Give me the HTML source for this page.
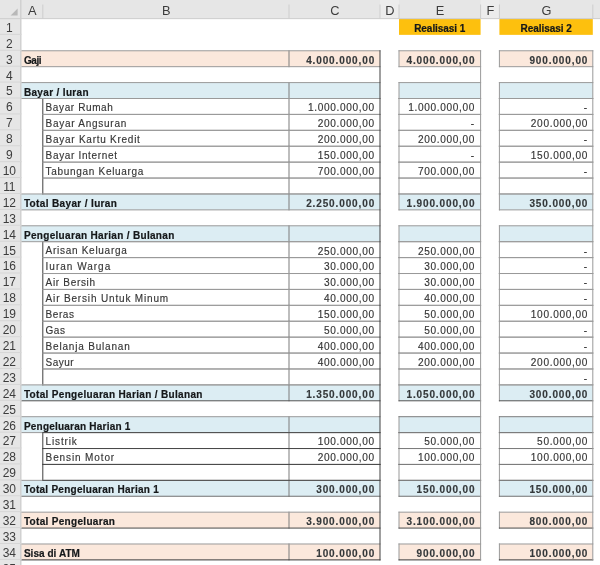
<!DOCTYPE html>
<html><head><meta charset="utf-8"><style>
html,body{margin:0;padding:0;background:#fff;width:600px;height:565px;overflow:hidden}
body{position:relative;font-family:"Liberation Sans",sans-serif;filter:blur(0.3px)}
svg{position:absolute;left:0;top:0}
.t{position:absolute;height:0;line-height:0;white-space:nowrap}
.n{color:#363636;-webkit-text-stroke:0.15px #363636}
.b{font-weight:bold;color:#15181a;-webkit-text-stroke:0.2px #15181a}
.hd{color:#3c3c3c}
.bn{color:#34383a;-webkit-text-stroke:0.15px #34383a}
</style></head><body>
<svg width="600" height="565" viewBox="0 0 600 565">
<rect x="0.00" y="0.00" width="600.00" height="18.95" fill="#e6e6e6"/>
<rect x="0.00" y="18.95" width="21.00" height="546.05" fill="#e6e6e6"/>
<rect x="380.00" y="0.00" width="19.00" height="18.95" fill="#ececec"/>
<rect x="480.60" y="0.00" width="18.80" height="18.95" fill="#ececec"/>
<rect x="21.00" y="50.77" width="359.00" height="15.91" fill="#fbe8dc"/>
<rect x="399.00" y="50.77" width="81.60" height="15.91" fill="#fbe8dc"/>
<rect x="499.40" y="50.77" width="93.40" height="15.91" fill="#fbe8dc"/>
<rect x="21.00" y="82.59" width="359.00" height="15.91" fill="#dcedf3"/>
<rect x="399.00" y="82.59" width="81.60" height="15.91" fill="#dcedf3"/>
<rect x="499.40" y="82.59" width="93.40" height="15.91" fill="#dcedf3"/>
<rect x="21.00" y="193.96" width="359.00" height="15.91" fill="#dcedf3"/>
<rect x="399.00" y="193.96" width="81.60" height="15.91" fill="#dcedf3"/>
<rect x="499.40" y="193.96" width="93.40" height="15.91" fill="#dcedf3"/>
<rect x="21.00" y="225.78" width="359.00" height="15.91" fill="#dcedf3"/>
<rect x="399.00" y="225.78" width="81.60" height="15.91" fill="#dcedf3"/>
<rect x="499.40" y="225.78" width="93.40" height="15.91" fill="#dcedf3"/>
<rect x="21.00" y="384.88" width="359.00" height="15.91" fill="#dcedf3"/>
<rect x="399.00" y="384.88" width="81.60" height="15.91" fill="#dcedf3"/>
<rect x="499.40" y="384.88" width="93.40" height="15.91" fill="#dcedf3"/>
<rect x="21.00" y="416.70" width="359.00" height="15.91" fill="#dcedf3"/>
<rect x="399.00" y="416.70" width="81.60" height="15.91" fill="#dcedf3"/>
<rect x="499.40" y="416.70" width="93.40" height="15.91" fill="#dcedf3"/>
<rect x="21.00" y="480.34" width="359.00" height="15.91" fill="#dcedf3"/>
<rect x="399.00" y="480.34" width="81.60" height="15.91" fill="#dcedf3"/>
<rect x="499.40" y="480.34" width="93.40" height="15.91" fill="#dcedf3"/>
<rect x="21.00" y="512.16" width="359.00" height="15.91" fill="#fbe8dc"/>
<rect x="399.00" y="512.16" width="81.60" height="15.91" fill="#fbe8dc"/>
<rect x="499.40" y="512.16" width="93.40" height="15.91" fill="#fbe8dc"/>
<rect x="21.00" y="543.98" width="359.00" height="15.91" fill="#fbe8dc"/>
<rect x="399.00" y="543.98" width="81.60" height="15.91" fill="#fbe8dc"/>
<rect x="499.40" y="543.98" width="93.40" height="15.91" fill="#fbe8dc"/>
<rect x="399.00" y="18.95" width="81.60" height="15.91" fill="#fdc00e"/>
<rect x="499.40" y="18.95" width="93.40" height="15.91" fill="#fdc00e"/>
<rect x="288.50" y="50.27" width="1.00" height="16.91" fill="#7c7c7c"/>
<rect x="398.50" y="50.27" width="1.00" height="16.91" fill="#9a9a9a"/>
<rect x="498.90" y="50.27" width="1.00" height="16.91" fill="#9a9a9a"/>
<rect x="288.50" y="82.09" width="1.00" height="16.91" fill="#7c7c7c"/>
<rect x="398.50" y="82.09" width="1.00" height="16.91" fill="#9a9a9a"/>
<rect x="498.90" y="82.09" width="1.00" height="16.91" fill="#9a9a9a"/>
<rect x="288.50" y="98.00" width="1.00" height="16.91" fill="#7c7c7c"/>
<rect x="42.30" y="98.00" width="1.00" height="16.91" fill="#404040"/>
<rect x="398.50" y="98.00" width="1.00" height="16.91" fill="#9a9a9a"/>
<rect x="498.90" y="98.00" width="1.00" height="16.91" fill="#9a9a9a"/>
<rect x="288.50" y="113.91" width="1.00" height="16.91" fill="#7c7c7c"/>
<rect x="42.30" y="113.91" width="1.00" height="16.91" fill="#404040"/>
<rect x="398.50" y="113.91" width="1.00" height="16.91" fill="#9a9a9a"/>
<rect x="498.90" y="113.91" width="1.00" height="16.91" fill="#9a9a9a"/>
<rect x="288.50" y="129.82" width="1.00" height="16.91" fill="#7c7c7c"/>
<rect x="42.30" y="129.82" width="1.00" height="16.91" fill="#404040"/>
<rect x="398.50" y="129.82" width="1.00" height="16.91" fill="#9a9a9a"/>
<rect x="498.90" y="129.82" width="1.00" height="16.91" fill="#9a9a9a"/>
<rect x="288.50" y="145.73" width="1.00" height="16.91" fill="#7c7c7c"/>
<rect x="42.30" y="145.73" width="1.00" height="16.91" fill="#404040"/>
<rect x="398.50" y="145.73" width="1.00" height="16.91" fill="#9a9a9a"/>
<rect x="498.90" y="145.73" width="1.00" height="16.91" fill="#9a9a9a"/>
<rect x="288.50" y="161.64" width="1.00" height="16.91" fill="#7c7c7c"/>
<rect x="42.30" y="161.64" width="1.00" height="16.91" fill="#404040"/>
<rect x="398.50" y="161.64" width="1.00" height="16.91" fill="#9a9a9a"/>
<rect x="498.90" y="161.64" width="1.00" height="16.91" fill="#9a9a9a"/>
<rect x="288.50" y="177.55" width="1.00" height="16.91" fill="#7c7c7c"/>
<rect x="42.30" y="177.55" width="1.00" height="16.91" fill="#404040"/>
<rect x="398.50" y="177.55" width="1.00" height="16.91" fill="#9a9a9a"/>
<rect x="498.90" y="177.55" width="1.00" height="16.91" fill="#9a9a9a"/>
<rect x="288.50" y="193.46" width="1.00" height="16.91" fill="#7c7c7c"/>
<rect x="398.50" y="193.46" width="1.00" height="16.91" fill="#9a9a9a"/>
<rect x="498.90" y="193.46" width="1.00" height="16.91" fill="#9a9a9a"/>
<rect x="288.50" y="225.28" width="1.00" height="16.91" fill="#7c7c7c"/>
<rect x="398.50" y="225.28" width="1.00" height="16.91" fill="#9a9a9a"/>
<rect x="498.90" y="225.28" width="1.00" height="16.91" fill="#9a9a9a"/>
<rect x="288.50" y="241.19" width="1.00" height="16.91" fill="#7c7c7c"/>
<rect x="42.30" y="241.19" width="1.00" height="16.91" fill="#404040"/>
<rect x="398.50" y="241.19" width="1.00" height="16.91" fill="#9a9a9a"/>
<rect x="498.90" y="241.19" width="1.00" height="16.91" fill="#9a9a9a"/>
<rect x="288.50" y="257.10" width="1.00" height="16.91" fill="#7c7c7c"/>
<rect x="42.30" y="257.10" width="1.00" height="16.91" fill="#404040"/>
<rect x="398.50" y="257.10" width="1.00" height="16.91" fill="#9a9a9a"/>
<rect x="498.90" y="257.10" width="1.00" height="16.91" fill="#9a9a9a"/>
<rect x="288.50" y="273.01" width="1.00" height="16.91" fill="#7c7c7c"/>
<rect x="42.30" y="273.01" width="1.00" height="16.91" fill="#404040"/>
<rect x="398.50" y="273.01" width="1.00" height="16.91" fill="#9a9a9a"/>
<rect x="498.90" y="273.01" width="1.00" height="16.91" fill="#9a9a9a"/>
<rect x="288.50" y="288.92" width="1.00" height="16.91" fill="#7c7c7c"/>
<rect x="42.30" y="288.92" width="1.00" height="16.91" fill="#404040"/>
<rect x="398.50" y="288.92" width="1.00" height="16.91" fill="#9a9a9a"/>
<rect x="498.90" y="288.92" width="1.00" height="16.91" fill="#9a9a9a"/>
<rect x="288.50" y="304.83" width="1.00" height="16.91" fill="#7c7c7c"/>
<rect x="42.30" y="304.83" width="1.00" height="16.91" fill="#404040"/>
<rect x="398.50" y="304.83" width="1.00" height="16.91" fill="#9a9a9a"/>
<rect x="498.90" y="304.83" width="1.00" height="16.91" fill="#9a9a9a"/>
<rect x="288.50" y="320.74" width="1.00" height="16.91" fill="#7c7c7c"/>
<rect x="42.30" y="320.74" width="1.00" height="16.91" fill="#404040"/>
<rect x="398.50" y="320.74" width="1.00" height="16.91" fill="#9a9a9a"/>
<rect x="498.90" y="320.74" width="1.00" height="16.91" fill="#9a9a9a"/>
<rect x="288.50" y="336.65" width="1.00" height="16.91" fill="#7c7c7c"/>
<rect x="42.30" y="336.65" width="1.00" height="16.91" fill="#404040"/>
<rect x="398.50" y="336.65" width="1.00" height="16.91" fill="#9a9a9a"/>
<rect x="498.90" y="336.65" width="1.00" height="16.91" fill="#9a9a9a"/>
<rect x="288.50" y="352.56" width="1.00" height="16.91" fill="#7c7c7c"/>
<rect x="42.30" y="352.56" width="1.00" height="16.91" fill="#404040"/>
<rect x="398.50" y="352.56" width="1.00" height="16.91" fill="#9a9a9a"/>
<rect x="498.90" y="352.56" width="1.00" height="16.91" fill="#9a9a9a"/>
<rect x="288.50" y="368.47" width="1.00" height="16.91" fill="#7c7c7c"/>
<rect x="42.30" y="368.47" width="1.00" height="16.91" fill="#404040"/>
<rect x="398.50" y="368.47" width="1.00" height="16.91" fill="#9a9a9a"/>
<rect x="498.90" y="368.47" width="1.00" height="16.91" fill="#9a9a9a"/>
<rect x="288.50" y="384.38" width="1.00" height="16.91" fill="#7c7c7c"/>
<rect x="398.50" y="384.38" width="1.00" height="16.91" fill="#9a9a9a"/>
<rect x="498.90" y="384.38" width="1.00" height="16.91" fill="#9a9a9a"/>
<rect x="288.50" y="416.20" width="1.00" height="16.91" fill="#7c7c7c"/>
<rect x="398.50" y="416.20" width="1.00" height="16.91" fill="#9a9a9a"/>
<rect x="498.90" y="416.20" width="1.00" height="16.91" fill="#9a9a9a"/>
<rect x="288.50" y="432.11" width="1.00" height="16.91" fill="#7c7c7c"/>
<rect x="42.30" y="432.11" width="1.00" height="16.91" fill="#404040"/>
<rect x="398.50" y="432.11" width="1.00" height="16.91" fill="#9a9a9a"/>
<rect x="498.90" y="432.11" width="1.00" height="16.91" fill="#9a9a9a"/>
<rect x="288.50" y="448.02" width="1.00" height="16.91" fill="#7c7c7c"/>
<rect x="42.30" y="448.02" width="1.00" height="16.91" fill="#404040"/>
<rect x="398.50" y="448.02" width="1.00" height="16.91" fill="#9a9a9a"/>
<rect x="498.90" y="448.02" width="1.00" height="16.91" fill="#9a9a9a"/>
<rect x="288.50" y="463.93" width="1.00" height="16.91" fill="#7c7c7c"/>
<rect x="42.30" y="463.93" width="1.00" height="16.91" fill="#404040"/>
<rect x="398.50" y="463.93" width="1.00" height="16.91" fill="#9a9a9a"/>
<rect x="498.90" y="463.93" width="1.00" height="16.91" fill="#9a9a9a"/>
<rect x="288.50" y="479.84" width="1.00" height="16.91" fill="#7c7c7c"/>
<rect x="398.50" y="479.84" width="1.00" height="16.91" fill="#9a9a9a"/>
<rect x="498.90" y="479.84" width="1.00" height="16.91" fill="#9a9a9a"/>
<rect x="288.50" y="511.66" width="1.00" height="16.91" fill="#7c7c7c"/>
<rect x="398.50" y="511.66" width="1.00" height="16.91" fill="#9a9a9a"/>
<rect x="498.90" y="511.66" width="1.00" height="16.91" fill="#9a9a9a"/>
<rect x="288.50" y="543.48" width="1.00" height="16.91" fill="#7c7c7c"/>
<rect x="398.50" y="543.48" width="1.00" height="16.91" fill="#9a9a9a"/>
<rect x="498.90" y="543.48" width="1.00" height="16.91" fill="#9a9a9a"/>
<rect x="20.50" y="50.27" width="360.00" height="1.00" fill="#9a9a9a"/>
<rect x="20.50" y="66.18" width="360.00" height="1.00" fill="#9a9a9a"/>
<rect x="398.50" y="50.27" width="82.60" height="1.00" fill="#9a9a9a"/>
<rect x="398.50" y="66.18" width="82.60" height="1.00" fill="#9a9a9a"/>
<rect x="498.90" y="50.27" width="94.40" height="1.00" fill="#9a9a9a"/>
<rect x="498.90" y="66.18" width="94.40" height="1.00" fill="#9a9a9a"/>
<rect x="20.50" y="82.09" width="360.00" height="1.00" fill="#9a9a9a"/>
<rect x="20.50" y="98.00" width="360.00" height="1.00" fill="#9a9a9a"/>
<rect x="398.50" y="82.09" width="82.60" height="1.00" fill="#9a9a9a"/>
<rect x="398.50" y="98.00" width="82.60" height="1.00" fill="#9a9a9a"/>
<rect x="498.90" y="82.09" width="94.40" height="1.00" fill="#9a9a9a"/>
<rect x="498.90" y="98.00" width="94.40" height="1.00" fill="#9a9a9a"/>
<rect x="42.30" y="98.00" width="338.20" height="1.00" fill="#9a9a9a"/>
<rect x="42.30" y="113.91" width="338.20" height="1.00" fill="#9a9a9a"/>
<rect x="398.50" y="98.00" width="82.60" height="1.00" fill="#9a9a9a"/>
<rect x="398.50" y="113.91" width="82.60" height="1.00" fill="#9a9a9a"/>
<rect x="498.90" y="98.00" width="94.40" height="1.00" fill="#9a9a9a"/>
<rect x="498.90" y="113.91" width="94.40" height="1.00" fill="#9a9a9a"/>
<rect x="42.30" y="113.91" width="338.20" height="1.00" fill="#9a9a9a"/>
<rect x="42.30" y="129.82" width="338.20" height="1.00" fill="#9a9a9a"/>
<rect x="398.50" y="113.91" width="82.60" height="1.00" fill="#9a9a9a"/>
<rect x="398.50" y="129.82" width="82.60" height="1.00" fill="#9a9a9a"/>
<rect x="498.90" y="113.91" width="94.40" height="1.00" fill="#9a9a9a"/>
<rect x="498.90" y="129.82" width="94.40" height="1.00" fill="#9a9a9a"/>
<rect x="42.30" y="129.82" width="338.20" height="1.00" fill="#9a9a9a"/>
<rect x="42.30" y="145.73" width="338.20" height="1.00" fill="#9a9a9a"/>
<rect x="398.50" y="129.82" width="82.60" height="1.00" fill="#9a9a9a"/>
<rect x="398.50" y="145.73" width="82.60" height="1.00" fill="#9a9a9a"/>
<rect x="498.90" y="129.82" width="94.40" height="1.00" fill="#9a9a9a"/>
<rect x="498.90" y="145.73" width="94.40" height="1.00" fill="#9a9a9a"/>
<rect x="42.30" y="145.73" width="338.20" height="1.00" fill="#9a9a9a"/>
<rect x="42.30" y="161.64" width="338.20" height="1.00" fill="#9a9a9a"/>
<rect x="398.50" y="145.73" width="82.60" height="1.00" fill="#9a9a9a"/>
<rect x="398.50" y="161.64" width="82.60" height="1.00" fill="#9a9a9a"/>
<rect x="498.90" y="145.73" width="94.40" height="1.00" fill="#9a9a9a"/>
<rect x="498.90" y="161.64" width="94.40" height="1.00" fill="#9a9a9a"/>
<rect x="42.30" y="161.64" width="338.20" height="1.00" fill="#9a9a9a"/>
<rect x="42.30" y="177.55" width="338.20" height="1.00" fill="#9a9a9a"/>
<rect x="398.50" y="161.64" width="82.60" height="1.00" fill="#9a9a9a"/>
<rect x="398.50" y="177.55" width="82.60" height="1.00" fill="#9a9a9a"/>
<rect x="498.90" y="161.64" width="94.40" height="1.00" fill="#9a9a9a"/>
<rect x="498.90" y="177.55" width="94.40" height="1.00" fill="#9a9a9a"/>
<rect x="42.30" y="177.55" width="338.20" height="1.00" fill="#9a9a9a"/>
<rect x="42.30" y="193.46" width="338.20" height="1.00" fill="#9a9a9a"/>
<rect x="398.50" y="177.55" width="82.60" height="1.00" fill="#9a9a9a"/>
<rect x="398.50" y="193.46" width="82.60" height="1.00" fill="#9a9a9a"/>
<rect x="498.90" y="177.55" width="94.40" height="1.00" fill="#9a9a9a"/>
<rect x="498.90" y="193.46" width="94.40" height="1.00" fill="#9a9a9a"/>
<rect x="20.50" y="193.46" width="360.00" height="1.00" fill="#9a9a9a"/>
<rect x="20.50" y="209.37" width="360.00" height="1.00" fill="#9a9a9a"/>
<rect x="398.50" y="193.46" width="82.60" height="1.00" fill="#9a9a9a"/>
<rect x="398.50" y="209.37" width="82.60" height="1.00" fill="#9a9a9a"/>
<rect x="498.90" y="193.46" width="94.40" height="1.00" fill="#9a9a9a"/>
<rect x="498.90" y="209.37" width="94.40" height="1.00" fill="#9a9a9a"/>
<rect x="20.50" y="225.28" width="360.00" height="1.00" fill="#9a9a9a"/>
<rect x="20.50" y="241.19" width="360.00" height="1.00" fill="#9a9a9a"/>
<rect x="398.50" y="225.28" width="82.60" height="1.00" fill="#9a9a9a"/>
<rect x="398.50" y="241.19" width="82.60" height="1.00" fill="#9a9a9a"/>
<rect x="498.90" y="225.28" width="94.40" height="1.00" fill="#9a9a9a"/>
<rect x="498.90" y="241.19" width="94.40" height="1.00" fill="#9a9a9a"/>
<rect x="42.30" y="241.19" width="338.20" height="1.00" fill="#9a9a9a"/>
<rect x="42.30" y="257.10" width="338.20" height="1.00" fill="#9a9a9a"/>
<rect x="398.50" y="241.19" width="82.60" height="1.00" fill="#9a9a9a"/>
<rect x="398.50" y="257.10" width="82.60" height="1.00" fill="#9a9a9a"/>
<rect x="498.90" y="241.19" width="94.40" height="1.00" fill="#9a9a9a"/>
<rect x="498.90" y="257.10" width="94.40" height="1.00" fill="#9a9a9a"/>
<rect x="42.30" y="257.10" width="338.20" height="1.00" fill="#9a9a9a"/>
<rect x="42.30" y="273.01" width="338.20" height="1.00" fill="#9a9a9a"/>
<rect x="398.50" y="257.10" width="82.60" height="1.00" fill="#9a9a9a"/>
<rect x="398.50" y="273.01" width="82.60" height="1.00" fill="#9a9a9a"/>
<rect x="498.90" y="257.10" width="94.40" height="1.00" fill="#9a9a9a"/>
<rect x="498.90" y="273.01" width="94.40" height="1.00" fill="#9a9a9a"/>
<rect x="42.30" y="273.01" width="338.20" height="1.00" fill="#9a9a9a"/>
<rect x="42.30" y="288.92" width="338.20" height="1.00" fill="#9a9a9a"/>
<rect x="398.50" y="273.01" width="82.60" height="1.00" fill="#9a9a9a"/>
<rect x="398.50" y="288.92" width="82.60" height="1.00" fill="#9a9a9a"/>
<rect x="498.90" y="273.01" width="94.40" height="1.00" fill="#9a9a9a"/>
<rect x="498.90" y="288.92" width="94.40" height="1.00" fill="#9a9a9a"/>
<rect x="42.30" y="288.92" width="338.20" height="1.00" fill="#9a9a9a"/>
<rect x="42.30" y="304.83" width="338.20" height="1.00" fill="#9a9a9a"/>
<rect x="398.50" y="288.92" width="82.60" height="1.00" fill="#9a9a9a"/>
<rect x="398.50" y="304.83" width="82.60" height="1.00" fill="#9a9a9a"/>
<rect x="498.90" y="288.92" width="94.40" height="1.00" fill="#9a9a9a"/>
<rect x="498.90" y="304.83" width="94.40" height="1.00" fill="#9a9a9a"/>
<rect x="42.30" y="304.83" width="338.20" height="1.00" fill="#9a9a9a"/>
<rect x="42.30" y="320.74" width="338.20" height="1.00" fill="#9a9a9a"/>
<rect x="398.50" y="304.83" width="82.60" height="1.00" fill="#9a9a9a"/>
<rect x="398.50" y="320.74" width="82.60" height="1.00" fill="#9a9a9a"/>
<rect x="498.90" y="304.83" width="94.40" height="1.00" fill="#9a9a9a"/>
<rect x="498.90" y="320.74" width="94.40" height="1.00" fill="#9a9a9a"/>
<rect x="42.30" y="320.74" width="338.20" height="1.00" fill="#9a9a9a"/>
<rect x="42.30" y="336.65" width="338.20" height="1.00" fill="#9a9a9a"/>
<rect x="398.50" y="320.74" width="82.60" height="1.00" fill="#9a9a9a"/>
<rect x="398.50" y="336.65" width="82.60" height="1.00" fill="#9a9a9a"/>
<rect x="498.90" y="320.74" width="94.40" height="1.00" fill="#9a9a9a"/>
<rect x="498.90" y="336.65" width="94.40" height="1.00" fill="#9a9a9a"/>
<rect x="42.30" y="336.65" width="338.20" height="1.00" fill="#9a9a9a"/>
<rect x="42.30" y="352.56" width="338.20" height="1.00" fill="#9a9a9a"/>
<rect x="398.50" y="336.65" width="82.60" height="1.00" fill="#9a9a9a"/>
<rect x="398.50" y="352.56" width="82.60" height="1.00" fill="#9a9a9a"/>
<rect x="498.90" y="336.65" width="94.40" height="1.00" fill="#9a9a9a"/>
<rect x="498.90" y="352.56" width="94.40" height="1.00" fill="#9a9a9a"/>
<rect x="42.30" y="352.56" width="338.20" height="1.00" fill="#9a9a9a"/>
<rect x="42.30" y="368.47" width="338.20" height="1.00" fill="#9a9a9a"/>
<rect x="398.50" y="352.56" width="82.60" height="1.00" fill="#9a9a9a"/>
<rect x="398.50" y="368.47" width="82.60" height="1.00" fill="#9a9a9a"/>
<rect x="498.90" y="352.56" width="94.40" height="1.00" fill="#9a9a9a"/>
<rect x="498.90" y="368.47" width="94.40" height="1.00" fill="#9a9a9a"/>
<rect x="42.30" y="368.47" width="338.20" height="1.00" fill="#9a9a9a"/>
<rect x="42.30" y="384.38" width="338.20" height="1.00" fill="#9a9a9a"/>
<rect x="398.50" y="368.47" width="82.60" height="1.00" fill="#9a9a9a"/>
<rect x="398.50" y="384.38" width="82.60" height="1.00" fill="#9a9a9a"/>
<rect x="498.90" y="368.47" width="94.40" height="1.00" fill="#9a9a9a"/>
<rect x="498.90" y="384.38" width="94.40" height="1.00" fill="#9a9a9a"/>
<rect x="20.50" y="384.38" width="360.00" height="1.00" fill="#9a9a9a"/>
<rect x="398.50" y="384.38" width="82.60" height="1.00" fill="#9a9a9a"/>
<rect x="498.90" y="384.38" width="94.40" height="1.00" fill="#9a9a9a"/>
<rect x="20.50" y="416.20" width="360.00" height="1.00" fill="#9a9a9a"/>
<rect x="20.50" y="432.11" width="360.00" height="1.00" fill="#9a9a9a"/>
<rect x="20.50" y="479.84" width="360.00" height="1.00" fill="#9a9a9a"/>
<rect x="20.50" y="511.66" width="360.00" height="1.00" fill="#9a9a9a"/>
<rect x="398.50" y="511.66" width="82.60" height="1.00" fill="#9a9a9a"/>
<rect x="498.90" y="511.66" width="94.40" height="1.00" fill="#9a9a9a"/>
<rect x="20.50" y="543.48" width="360.00" height="1.00" fill="#9a9a9a"/>
<rect x="398.50" y="543.48" width="82.60" height="1.00" fill="#9a9a9a"/>
<rect x="498.90" y="543.48" width="94.40" height="1.00" fill="#9a9a9a"/>
<rect x="398.50" y="416.20" width="82.60" height="1.00" fill="#7c7c7c"/>
<rect x="398.50" y="432.11" width="82.60" height="1.00" fill="#7c7c7c"/>
<rect x="498.90" y="416.20" width="94.40" height="1.00" fill="#7c7c7c"/>
<rect x="498.90" y="432.11" width="94.40" height="1.00" fill="#7c7c7c"/>
<rect x="398.50" y="432.11" width="82.60" height="1.00" fill="#7c7c7c"/>
<rect x="398.50" y="448.02" width="82.60" height="1.00" fill="#7c7c7c"/>
<rect x="498.90" y="432.11" width="94.40" height="1.00" fill="#7c7c7c"/>
<rect x="498.90" y="448.02" width="94.40" height="1.00" fill="#7c7c7c"/>
<rect x="398.50" y="448.02" width="82.60" height="1.00" fill="#7c7c7c"/>
<rect x="398.50" y="463.93" width="82.60" height="1.00" fill="#7c7c7c"/>
<rect x="498.90" y="448.02" width="94.40" height="1.00" fill="#7c7c7c"/>
<rect x="498.90" y="463.93" width="94.40" height="1.00" fill="#7c7c7c"/>
<rect x="398.50" y="463.93" width="82.60" height="1.00" fill="#7c7c7c"/>
<rect x="398.50" y="479.84" width="82.60" height="1.00" fill="#7c7c7c"/>
<rect x="498.90" y="463.93" width="94.40" height="1.00" fill="#7c7c7c"/>
<rect x="498.90" y="479.84" width="94.40" height="1.00" fill="#7c7c7c"/>
<rect x="398.50" y="479.84" width="82.60" height="1.00" fill="#7c7c7c"/>
<rect x="498.90" y="479.84" width="94.40" height="1.00" fill="#7c7c7c"/>
<rect x="20.50" y="495.75" width="360.00" height="1.00" fill="#727272"/>
<rect x="398.50" y="495.75" width="82.60" height="1.00" fill="#727272"/>
<rect x="498.90" y="495.75" width="94.40" height="1.00" fill="#727272"/>
<rect x="20.50" y="400.29" width="360.00" height="1.00" fill="#555555"/>
<rect x="398.50" y="400.29" width="82.60" height="1.00" fill="#555555"/>
<rect x="498.90" y="400.29" width="94.40" height="1.00" fill="#555555"/>
<rect x="42.30" y="432.11" width="338.20" height="1.00" fill="#4a4a4a"/>
<rect x="42.30" y="448.02" width="338.20" height="1.00" fill="#4a4a4a"/>
<rect x="42.30" y="448.02" width="338.20" height="1.00" fill="#4a4a4a"/>
<rect x="42.30" y="463.93" width="338.20" height="1.00" fill="#4a4a4a"/>
<rect x="42.30" y="463.93" width="338.20" height="1.00" fill="#4a4a4a"/>
<rect x="42.30" y="479.84" width="338.20" height="1.00" fill="#4a4a4a"/>
<rect x="20.50" y="527.57" width="360.00" height="1.00" fill="#4a4a4a"/>
<rect x="398.50" y="527.57" width="82.60" height="1.00" fill="#4a4a4a"/>
<rect x="498.90" y="527.57" width="94.40" height="1.00" fill="#4a4a4a"/>
<rect x="20.50" y="559.39" width="360.00" height="1.00" fill="#3a3a3a"/>
<rect x="398.50" y="559.39" width="82.60" height="1.00" fill="#3a3a3a"/>
<rect x="498.90" y="559.39" width="94.40" height="1.00" fill="#3a3a3a"/>
<rect x="379.50" y="50.27" width="1.00" height="510.12" fill="#404040"/>
<rect x="480.10" y="50.27" width="1.00" height="510.12" fill="#9a9a9a"/>
<rect x="592.30" y="50.27" width="1.00" height="510.12" fill="#9a9a9a"/>
<rect x="-0.50" y="18.15" width="601.00" height="1.00" fill="#cdcdcd"/>
<rect x="20.10" y="-0.70" width="1.40" height="566.40" fill="#cfcfcf"/>
<rect x="42.30" y="4.50" width="1.00" height="14.15" fill="#cdcdcd"/>
<rect x="288.50" y="4.50" width="1.00" height="14.15" fill="#cdcdcd"/>
<rect x="379.50" y="4.50" width="1.00" height="14.15" fill="#cdcdcd"/>
<rect x="398.50" y="4.50" width="1.00" height="14.15" fill="#cdcdcd"/>
<rect x="480.10" y="4.50" width="1.00" height="14.15" fill="#cdcdcd"/>
<rect x="498.90" y="4.50" width="1.00" height="14.15" fill="#cdcdcd"/>
<rect x="592.30" y="4.50" width="1.00" height="14.15" fill="#cdcdcd"/>
<rect x="-0.50" y="33.86" width="22.00" height="1.00" fill="#d6d6d6"/>
<rect x="-0.50" y="49.77" width="22.00" height="1.00" fill="#d6d6d6"/>
<rect x="-0.50" y="65.68" width="22.00" height="1.00" fill="#d6d6d6"/>
<rect x="-0.50" y="81.59" width="22.00" height="1.00" fill="#d6d6d6"/>
<rect x="-0.50" y="97.50" width="22.00" height="1.00" fill="#d6d6d6"/>
<rect x="-0.50" y="113.41" width="22.00" height="1.00" fill="#d6d6d6"/>
<rect x="-0.50" y="129.32" width="22.00" height="1.00" fill="#d6d6d6"/>
<rect x="-0.50" y="145.23" width="22.00" height="1.00" fill="#d6d6d6"/>
<rect x="-0.50" y="161.14" width="22.00" height="1.00" fill="#d6d6d6"/>
<rect x="-0.50" y="177.05" width="22.00" height="1.00" fill="#d6d6d6"/>
<rect x="-0.50" y="192.96" width="22.00" height="1.00" fill="#d6d6d6"/>
<rect x="-0.50" y="208.87" width="22.00" height="1.00" fill="#d6d6d6"/>
<rect x="-0.50" y="224.78" width="22.00" height="1.00" fill="#d6d6d6"/>
<rect x="-0.50" y="240.69" width="22.00" height="1.00" fill="#d6d6d6"/>
<rect x="-0.50" y="256.60" width="22.00" height="1.00" fill="#d6d6d6"/>
<rect x="-0.50" y="272.51" width="22.00" height="1.00" fill="#d6d6d6"/>
<rect x="-0.50" y="288.42" width="22.00" height="1.00" fill="#d6d6d6"/>
<rect x="-0.50" y="304.33" width="22.00" height="1.00" fill="#d6d6d6"/>
<rect x="-0.50" y="320.24" width="22.00" height="1.00" fill="#d6d6d6"/>
<rect x="-0.50" y="336.15" width="22.00" height="1.00" fill="#d6d6d6"/>
<rect x="-0.50" y="352.06" width="22.00" height="1.00" fill="#d6d6d6"/>
<rect x="-0.50" y="367.97" width="22.00" height="1.00" fill="#d6d6d6"/>
<rect x="-0.50" y="383.88" width="22.00" height="1.00" fill="#d6d6d6"/>
<rect x="-0.50" y="399.79" width="22.00" height="1.00" fill="#d6d6d6"/>
<rect x="-0.50" y="415.70" width="22.00" height="1.00" fill="#d6d6d6"/>
<rect x="-0.50" y="431.61" width="22.00" height="1.00" fill="#d6d6d6"/>
<rect x="-0.50" y="447.52" width="22.00" height="1.00" fill="#d6d6d6"/>
<rect x="-0.50" y="463.43" width="22.00" height="1.00" fill="#d6d6d6"/>
<rect x="-0.50" y="479.34" width="22.00" height="1.00" fill="#d6d6d6"/>
<rect x="-0.50" y="495.25" width="22.00" height="1.00" fill="#d6d6d6"/>
<rect x="-0.50" y="511.16" width="22.00" height="1.00" fill="#d6d6d6"/>
<rect x="-0.50" y="527.07" width="22.00" height="1.00" fill="#d6d6d6"/>
<rect x="-0.50" y="542.98" width="22.00" height="1.00" fill="#d6d6d6"/>
<rect x="-0.50" y="558.89" width="22.00" height="1.00" fill="#d6d6d6"/>
<rect x="-0.50" y="574.80" width="22.00" height="1.00" fill="#d6d6d6"/>
<polygon points="10.6,15.6 17.6,15.6 17.6,8.6" fill="#b8b8b8"/>
</svg>
<div class="t hd" style="top:11.46px;font-size:12.8px;letter-spacing:0.000px;left:21.30px;width:21.80px;text-align:center;text-indent:0.00px;">A</div>
<div class="t hd" style="top:11.46px;font-size:12.8px;letter-spacing:0.000px;left:43.10px;width:246.20px;text-align:center;text-indent:0.00px;">B</div>
<div class="t hd" style="top:11.46px;font-size:12.8px;letter-spacing:0.000px;left:289.30px;width:91.00px;text-align:center;text-indent:0.00px;">C</div>
<div class="t hd" style="top:11.46px;font-size:12.8px;letter-spacing:0.000px;left:380.30px;width:19.00px;text-align:center;text-indent:0.00px;">D</div>
<div class="t hd" style="top:11.46px;font-size:12.8px;letter-spacing:0.000px;left:399.30px;width:81.60px;text-align:center;text-indent:0.00px;">E</div>
<div class="t hd" style="top:11.46px;font-size:12.8px;letter-spacing:0.000px;left:480.90px;width:18.80px;text-align:center;text-indent:0.00px;">F</div>
<div class="t hd" style="top:11.46px;font-size:12.8px;letter-spacing:0.000px;left:499.70px;width:93.40px;text-align:center;text-indent:0.00px;">G</div>
<div class="t hd" style="top:27.80px;font-size:12.0px;letter-spacing:-0.300px;left:-1.20px;width:21.00px;text-align:center;text-indent:-0.30px;">1</div>
<div class="t hd" style="top:43.71px;font-size:12.0px;letter-spacing:-0.300px;left:-1.20px;width:21.00px;text-align:center;text-indent:-0.30px;">2</div>
<div class="t hd" style="top:59.62px;font-size:12.0px;letter-spacing:-0.300px;left:-1.20px;width:21.00px;text-align:center;text-indent:-0.30px;">3</div>
<div class="t hd" style="top:75.53px;font-size:12.0px;letter-spacing:-0.300px;left:-1.20px;width:21.00px;text-align:center;text-indent:-0.30px;">4</div>
<div class="t hd" style="top:91.44px;font-size:12.0px;letter-spacing:-0.300px;left:-1.20px;width:21.00px;text-align:center;text-indent:-0.30px;">5</div>
<div class="t hd" style="top:107.35px;font-size:12.0px;letter-spacing:-0.300px;left:-1.20px;width:21.00px;text-align:center;text-indent:-0.30px;">6</div>
<div class="t hd" style="top:123.26px;font-size:12.0px;letter-spacing:-0.300px;left:-1.20px;width:21.00px;text-align:center;text-indent:-0.30px;">7</div>
<div class="t hd" style="top:139.17px;font-size:12.0px;letter-spacing:-0.300px;left:-1.20px;width:21.00px;text-align:center;text-indent:-0.30px;">8</div>
<div class="t hd" style="top:155.08px;font-size:12.0px;letter-spacing:-0.300px;left:-1.20px;width:21.00px;text-align:center;text-indent:-0.30px;">9</div>
<div class="t hd" style="top:170.99px;font-size:12.0px;letter-spacing:-0.300px;left:-1.20px;width:21.00px;text-align:center;text-indent:-0.30px;">10</div>
<div class="t hd" style="top:186.90px;font-size:12.0px;letter-spacing:-0.300px;left:-1.20px;width:21.00px;text-align:center;text-indent:-0.30px;">11</div>
<div class="t hd" style="top:202.81px;font-size:12.0px;letter-spacing:-0.300px;left:-1.20px;width:21.00px;text-align:center;text-indent:-0.30px;">12</div>
<div class="t hd" style="top:218.72px;font-size:12.0px;letter-spacing:-0.300px;left:-1.20px;width:21.00px;text-align:center;text-indent:-0.30px;">13</div>
<div class="t hd" style="top:234.63px;font-size:12.0px;letter-spacing:-0.300px;left:-1.20px;width:21.00px;text-align:center;text-indent:-0.30px;">14</div>
<div class="t hd" style="top:250.54px;font-size:12.0px;letter-spacing:-0.300px;left:-1.20px;width:21.00px;text-align:center;text-indent:-0.30px;">15</div>
<div class="t hd" style="top:266.45px;font-size:12.0px;letter-spacing:-0.300px;left:-1.20px;width:21.00px;text-align:center;text-indent:-0.30px;">16</div>
<div class="t hd" style="top:282.36px;font-size:12.0px;letter-spacing:-0.300px;left:-1.20px;width:21.00px;text-align:center;text-indent:-0.30px;">17</div>
<div class="t hd" style="top:298.27px;font-size:12.0px;letter-spacing:-0.300px;left:-1.20px;width:21.00px;text-align:center;text-indent:-0.30px;">18</div>
<div class="t hd" style="top:314.18px;font-size:12.0px;letter-spacing:-0.300px;left:-1.20px;width:21.00px;text-align:center;text-indent:-0.30px;">19</div>
<div class="t hd" style="top:330.09px;font-size:12.0px;letter-spacing:-0.300px;left:-1.20px;width:21.00px;text-align:center;text-indent:-0.30px;">20</div>
<div class="t hd" style="top:346.00px;font-size:12.0px;letter-spacing:-0.300px;left:-1.20px;width:21.00px;text-align:center;text-indent:-0.30px;">21</div>
<div class="t hd" style="top:361.91px;font-size:12.0px;letter-spacing:-0.300px;left:-1.20px;width:21.00px;text-align:center;text-indent:-0.30px;">22</div>
<div class="t hd" style="top:377.82px;font-size:12.0px;letter-spacing:-0.300px;left:-1.20px;width:21.00px;text-align:center;text-indent:-0.30px;">23</div>
<div class="t hd" style="top:393.73px;font-size:12.0px;letter-spacing:-0.300px;left:-1.20px;width:21.00px;text-align:center;text-indent:-0.30px;">24</div>
<div class="t hd" style="top:409.64px;font-size:12.0px;letter-spacing:-0.300px;left:-1.20px;width:21.00px;text-align:center;text-indent:-0.30px;">25</div>
<div class="t hd" style="top:425.55px;font-size:12.0px;letter-spacing:-0.300px;left:-1.20px;width:21.00px;text-align:center;text-indent:-0.30px;">26</div>
<div class="t hd" style="top:441.46px;font-size:12.0px;letter-spacing:-0.300px;left:-1.20px;width:21.00px;text-align:center;text-indent:-0.30px;">27</div>
<div class="t hd" style="top:457.37px;font-size:12.0px;letter-spacing:-0.300px;left:-1.20px;width:21.00px;text-align:center;text-indent:-0.30px;">28</div>
<div class="t hd" style="top:473.28px;font-size:12.0px;letter-spacing:-0.300px;left:-1.20px;width:21.00px;text-align:center;text-indent:-0.30px;">29</div>
<div class="t hd" style="top:489.19px;font-size:12.0px;letter-spacing:-0.300px;left:-1.20px;width:21.00px;text-align:center;text-indent:-0.30px;">30</div>
<div class="t hd" style="top:505.10px;font-size:12.0px;letter-spacing:-0.300px;left:-1.20px;width:21.00px;text-align:center;text-indent:-0.30px;">31</div>
<div class="t hd" style="top:521.01px;font-size:12.0px;letter-spacing:-0.300px;left:-1.20px;width:21.00px;text-align:center;text-indent:-0.30px;">32</div>
<div class="t hd" style="top:536.92px;font-size:12.0px;letter-spacing:-0.300px;left:-1.20px;width:21.00px;text-align:center;text-indent:-0.30px;">33</div>
<div class="t hd" style="top:552.83px;font-size:12.0px;letter-spacing:-0.300px;left:-1.20px;width:21.00px;text-align:center;text-indent:-0.30px;">34</div>
<div class="t hd" style="top:568.74px;font-size:12.0px;letter-spacing:-0.300px;left:-1.20px;width:21.00px;text-align:center;text-indent:-0.30px;">35</div>
<div class="t b" style="top:60.81px;font-size:10.0px;letter-spacing:-0.400px;left:23.90px;">Gaji</div>
<div class="t b bn" style="top:60.81px;font-size:10.0px;letter-spacing:0.880px;right:224.92px;">4.000.000,00</div>
<div class="t b bn" style="top:60.81px;font-size:10.0px;letter-spacing:0.880px;right:124.62px;">4.000.000,00</div>
<div class="t b bn" style="top:60.81px;font-size:10.0px;letter-spacing:0.880px;right:11.72px;">900.000,00</div>
<div class="t b" style="top:92.63px;font-size:10.0px;letter-spacing:0.343px;left:23.90px;">Bayar / Iuran</div>
<div class="t n" style="top:107.95px;font-size:10.0px;letter-spacing:0.606px;left:45.60px;">Bayar Rumah</div>
<div class="t n" style="top:108.31px;font-size:10.1px;letter-spacing:0.660px;right:225.24px;">1.000.000,00</div>
<div class="t n" style="top:108.31px;font-size:10.1px;letter-spacing:0.660px;right:124.94px;">1.000.000,00</div>
<div class="t n" style="top:108.35px;font-size:10.0px;letter-spacing:0.000px;right:12.90px;">-</div>
<div class="t n" style="top:123.85px;font-size:10.0px;letter-spacing:0.734px;left:45.60px;">Bayar Angsuran</div>
<div class="t n" style="top:124.22px;font-size:10.1px;letter-spacing:0.660px;right:225.24px;">200.000,00</div>
<div class="t n" style="top:124.25px;font-size:10.0px;letter-spacing:0.000px;right:125.80px;">-</div>
<div class="t n" style="top:124.22px;font-size:10.1px;letter-spacing:0.660px;right:12.04px;">200.000,00</div>
<div class="t n" style="top:139.76px;font-size:10.0px;letter-spacing:0.741px;left:45.60px;">Bayar Kartu Kredit</div>
<div class="t n" style="top:140.13px;font-size:10.1px;letter-spacing:0.660px;right:225.24px;">200.000,00</div>
<div class="t n" style="top:140.13px;font-size:10.1px;letter-spacing:0.660px;right:124.94px;">200.000,00</div>
<div class="t n" style="top:140.16px;font-size:10.0px;letter-spacing:0.000px;right:12.90px;">-</div>
<div class="t n" style="top:155.67px;font-size:10.0px;letter-spacing:0.661px;left:45.60px;">Bayar Internet</div>
<div class="t n" style="top:156.04px;font-size:10.1px;letter-spacing:0.660px;right:225.24px;">150.000,00</div>
<div class="t n" style="top:156.07px;font-size:10.0px;letter-spacing:0.000px;right:125.80px;">-</div>
<div class="t n" style="top:156.04px;font-size:10.1px;letter-spacing:0.660px;right:12.04px;">150.000,00</div>
<div class="t n" style="top:171.58px;font-size:10.0px;letter-spacing:0.691px;left:45.60px;">Tabungan Keluarga</div>
<div class="t n" style="top:171.95px;font-size:10.1px;letter-spacing:0.660px;right:225.24px;">700.000,00</div>
<div class="t n" style="top:171.95px;font-size:10.1px;letter-spacing:0.660px;right:124.94px;">700.000,00</div>
<div class="t n" style="top:171.98px;font-size:10.0px;letter-spacing:0.000px;right:12.90px;">-</div>
<div class="t b" style="top:204.00px;font-size:10.0px;letter-spacing:0.361px;left:23.90px;">Total Bayar / Iuran</div>
<div class="t b bn" style="top:204.00px;font-size:10.0px;letter-spacing:0.880px;right:224.92px;">2.250.000,00</div>
<div class="t b bn" style="top:204.00px;font-size:10.0px;letter-spacing:0.880px;right:124.62px;">1.900.000,00</div>
<div class="t b bn" style="top:204.00px;font-size:10.0px;letter-spacing:0.880px;right:11.72px;">350.000,00</div>
<div class="t b" style="top:235.82px;font-size:10.0px;letter-spacing:0.322px;left:23.90px;">Pengeluaran Harian / Bulanan</div>
<div class="t n" style="top:251.14px;font-size:10.0px;letter-spacing:0.717px;left:45.60px;">Arisan Keluarga</div>
<div class="t n" style="top:251.50px;font-size:10.1px;letter-spacing:0.660px;right:225.24px;">250.000,00</div>
<div class="t n" style="top:251.50px;font-size:10.1px;letter-spacing:0.660px;right:124.94px;">250.000,00</div>
<div class="t n" style="top:251.54px;font-size:10.0px;letter-spacing:0.000px;right:12.90px;">-</div>
<div class="t n" style="top:267.05px;font-size:10.0px;letter-spacing:0.994px;left:45.60px;">Iuran Warga</div>
<div class="t n" style="top:267.41px;font-size:10.1px;letter-spacing:0.660px;right:225.24px;">30.000,00</div>
<div class="t n" style="top:267.41px;font-size:10.1px;letter-spacing:0.660px;right:124.94px;">30.000,00</div>
<div class="t n" style="top:267.44px;font-size:10.0px;letter-spacing:0.000px;right:12.90px;">-</div>
<div class="t n" style="top:282.96px;font-size:10.0px;letter-spacing:0.683px;left:45.60px;">Air Bersih</div>
<div class="t n" style="top:283.32px;font-size:10.1px;letter-spacing:0.660px;right:225.24px;">30.000,00</div>
<div class="t n" style="top:283.32px;font-size:10.1px;letter-spacing:0.660px;right:124.94px;">30.000,00</div>
<div class="t n" style="top:283.36px;font-size:10.0px;letter-spacing:0.000px;right:12.90px;">-</div>
<div class="t n" style="top:298.87px;font-size:10.0px;letter-spacing:0.837px;left:45.60px;">Air Bersih Untuk Minum</div>
<div class="t n" style="top:299.23px;font-size:10.1px;letter-spacing:0.660px;right:225.24px;">40.000,00</div>
<div class="t n" style="top:299.23px;font-size:10.1px;letter-spacing:0.660px;right:124.94px;">40.000,00</div>
<div class="t n" style="top:299.26px;font-size:10.0px;letter-spacing:0.000px;right:12.90px;">-</div>
<div class="t n" style="top:314.78px;font-size:10.0px;letter-spacing:0.570px;left:45.60px;">Beras</div>
<div class="t n" style="top:315.14px;font-size:10.1px;letter-spacing:0.660px;right:225.24px;">150.000,00</div>
<div class="t n" style="top:315.14px;font-size:10.1px;letter-spacing:0.660px;right:124.94px;">50.000,00</div>
<div class="t n" style="top:315.14px;font-size:10.1px;letter-spacing:0.660px;right:12.04px;">100.000,00</div>
<div class="t n" style="top:330.69px;font-size:10.0px;letter-spacing:0.480px;left:45.60px;">Gas</div>
<div class="t n" style="top:331.05px;font-size:10.1px;letter-spacing:0.660px;right:225.24px;">50.000,00</div>
<div class="t n" style="top:331.05px;font-size:10.1px;letter-spacing:0.660px;right:124.94px;">50.000,00</div>
<div class="t n" style="top:331.08px;font-size:10.0px;letter-spacing:0.000px;right:12.90px;">-</div>
<div class="t n" style="top:346.60px;font-size:10.0px;letter-spacing:0.811px;left:45.60px;">Belanja Bulanan</div>
<div class="t n" style="top:346.96px;font-size:10.1px;letter-spacing:0.660px;right:225.24px;">400.000,00</div>
<div class="t n" style="top:346.96px;font-size:10.1px;letter-spacing:0.660px;right:124.94px;">400.000,00</div>
<div class="t n" style="top:347.00px;font-size:10.0px;letter-spacing:0.000px;right:12.90px;">-</div>
<div class="t n" style="top:362.50px;font-size:10.0px;letter-spacing:0.445px;left:45.60px;">Sayur</div>
<div class="t n" style="top:362.87px;font-size:10.1px;letter-spacing:0.660px;right:225.24px;">400.000,00</div>
<div class="t n" style="top:362.87px;font-size:10.1px;letter-spacing:0.660px;right:124.94px;">200.000,00</div>
<div class="t n" style="top:362.87px;font-size:10.1px;letter-spacing:0.660px;right:12.04px;">200.000,00</div>
<div class="t n" style="top:378.81px;font-size:10.0px;letter-spacing:0.000px;right:12.90px;">-</div>
<div class="t b" style="top:394.93px;font-size:10.0px;letter-spacing:0.329px;left:23.90px;">Total Pengeluaran Harian / Bulanan</div>
<div class="t b bn" style="top:394.93px;font-size:10.0px;letter-spacing:0.880px;right:224.92px;">1.350.000,00</div>
<div class="t b bn" style="top:394.93px;font-size:10.0px;letter-spacing:0.880px;right:124.62px;">1.050.000,00</div>
<div class="t b bn" style="top:394.93px;font-size:10.0px;letter-spacing:0.880px;right:11.72px;">300.000,00</div>
<div class="t b" style="top:426.75px;font-size:10.0px;letter-spacing:0.218px;left:23.90px;">Pengeluaran Harian 1</div>
<div class="t n" style="top:442.06px;font-size:10.0px;letter-spacing:0.845px;left:45.60px;">Listrik</div>
<div class="t n" style="top:442.42px;font-size:10.1px;letter-spacing:0.660px;right:225.24px;">100.000,00</div>
<div class="t n" style="top:442.42px;font-size:10.1px;letter-spacing:0.660px;right:124.94px;">50.000,00</div>
<div class="t n" style="top:442.42px;font-size:10.1px;letter-spacing:0.660px;right:12.04px;">50.000,00</div>
<div class="t n" style="top:457.97px;font-size:10.0px;letter-spacing:0.880px;left:45.60px;">Bensin Motor</div>
<div class="t n" style="top:458.33px;font-size:10.1px;letter-spacing:0.660px;right:225.24px;">200.000,00</div>
<div class="t n" style="top:458.33px;font-size:10.1px;letter-spacing:0.660px;right:124.94px;">100.000,00</div>
<div class="t n" style="top:458.33px;font-size:10.1px;letter-spacing:0.660px;right:12.04px;">100.000,00</div>
<div class="t b" style="top:490.39px;font-size:10.0px;letter-spacing:0.269px;left:23.90px;">Total Pengeluaran Harian 1</div>
<div class="t b bn" style="top:490.39px;font-size:10.0px;letter-spacing:0.880px;right:224.92px;">300.000,00</div>
<div class="t b bn" style="top:490.39px;font-size:10.0px;letter-spacing:0.880px;right:124.62px;">150.000,00</div>
<div class="t b bn" style="top:490.39px;font-size:10.0px;letter-spacing:0.880px;right:11.72px;">150.000,00</div>
<div class="t b" style="top:522.21px;font-size:10.0px;letter-spacing:0.316px;left:23.90px;">Total Pengeluaran</div>
<div class="t b bn" style="top:522.21px;font-size:10.0px;letter-spacing:0.880px;right:224.92px;">3.900.000,00</div>
<div class="t b bn" style="top:522.21px;font-size:10.0px;letter-spacing:0.880px;right:124.62px;">3.100.000,00</div>
<div class="t b bn" style="top:522.21px;font-size:10.0px;letter-spacing:0.880px;right:11.72px;">800.000,00</div>
<div class="t b" style="top:554.03px;font-size:10.0px;letter-spacing:0.044px;left:23.90px;">Sisa di ATM</div>
<div class="t b bn" style="top:554.03px;font-size:10.0px;letter-spacing:0.880px;right:224.92px;">100.000,00</div>
<div class="t b bn" style="top:554.03px;font-size:10.0px;letter-spacing:0.880px;right:124.62px;">900.000,00</div>
<div class="t b bn" style="top:554.03px;font-size:10.0px;letter-spacing:0.880px;right:11.72px;">100.000,00</div>
<div class="t b" style="top:28.89px;font-size:10.0px;letter-spacing:-0.050px;left:399.00px;width:81.60px;text-align:center;text-indent:-0.05px;">Realisasi 1</div>
<div class="t b" style="top:28.89px;font-size:10.0px;letter-spacing:-0.050px;left:499.40px;width:93.40px;text-align:center;text-indent:-0.05px;">Realisasi 2</div>
</body></html>
